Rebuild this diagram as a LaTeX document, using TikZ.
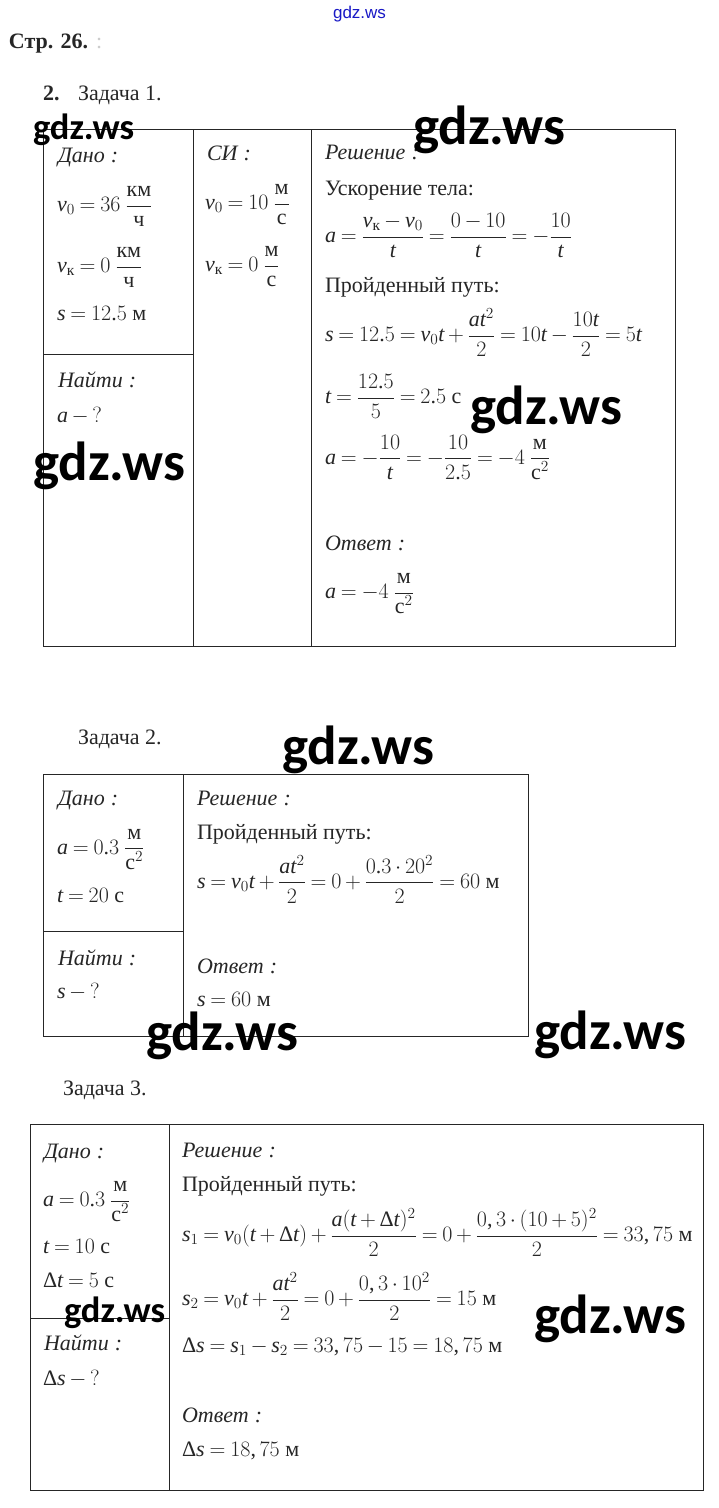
\RequirePackage{fix-cm}
\documentclass[tikz,border=0pt]{standalone}
\usepackage{amsmath}
\usepackage{fontspec}
\setmainfont{Liberation Serif}
\newfontfamily\tnrfam{Liberation Serif}[NFSSFamily=tnr]
\newfontfamily\wmfont{Carlito}
\newfontfamily\linkfont{Liberation Sans}
\DeclareSymbolFont{tnrit}{TU}{tnr}{m}{it}
\DeclareSymbolFont{tnrup}{TU}{tnr}{m}{n}
\DeclareMathSymbol{a}{\mathalpha}{tnrit}{`a}
\DeclareMathSymbol{s}{\mathalpha}{tnrit}{`s}
\DeclareMathSymbol{t}{\mathalpha}{tnrit}{`t}
\DeclareMathSymbol{v}{\mathalpha}{tnrit}{`v}
\DeclareMathSymbol{0}{\mathalpha}{tnrup}{`0}
\DeclareMathSymbol{1}{\mathalpha}{tnrup}{`1}
\DeclareMathSymbol{2}{\mathalpha}{tnrup}{`2}
\DeclareMathSymbol{3}{\mathalpha}{tnrup}{`3}
\DeclareMathSymbol{4}{\mathalpha}{tnrup}{`4}
\DeclareMathSymbol{5}{\mathalpha}{tnrup}{`5}
\DeclareMathSymbol{6}{\mathalpha}{tnrup}{`6}
\DeclareMathSymbol{7}{\mathalpha}{tnrup}{`7}
\DeclareMathSymbol{8}{\mathalpha}{tnrup}{`8}
\DeclareMathSymbol{9}{\mathalpha}{tnrup}{`9}
\DeclareMathSymbol{.}{\mathord}{tnrup}{`.}
\DeclareMathSymbol{,}{\mathpunct}{tnrup}{`,}
\DeclareMathSymbol{(}{\mathopen}{tnrup}{`(}
\DeclareMathSymbol{)}{\mathclose}{tnrup}{`)}
\DeclareMathSymbol{?}{\mathclose}{tnrup}{`?}
\newcommand{\Dl}{\text{Δ}}
\newcommand{\unitfr}[2]{\dfrac{\text{#1}}{\text{#2}}}
\thickmuskip=4mu plus 2mu
\medmuskip=3mu plus 1mu minus 2mu
\tikzset{
  txt/.style={anchor=base west, inner sep=0pt, outer sep=0pt, text=black!85,
    font=\fontsize{22}{26}\selectfont},
  hd/.style={txt, font=\fontsize{22}{26}\selectfont\itshape},
  wm/.style={anchor=base west, inner sep=0pt, outer sep=0pt, text=black,
    font=\wmfont\bfseries\fontsize{55}{62}\selectfont},
  wms/.style={wm, font=\wmfont\bfseries\fontsize{36.5}{42}\selectfont},
  tline/.style={line width=0.9pt, draw=black!85}
}
\begin{document}
\begin{tikzpicture}[x=1pt,y=-1pt]
\fill[white] (0,0) rectangle (718,1508);
\useasboundingbox (0,0) rectangle (718,1508);

% header
\node[anchor=base, inner sep=0pt, text=blue!75!black!90, font=\linkfont\fontsize{17}{20}\selectfont] (link) at (359.5,18) {gdz.ws};
\node[txt, font=\fontsize{22}{26}\selectfont\bfseries] (page) at (9,48) {Стр. 26.};
\node[txt, text=black!20, font=\fontsize{22}{26}\selectfont] (pagemark) at (96,48) {:};
\node[txt, font=\fontsize{22}{26}\selectfont\bfseries] (num) at (43,100) {2.};
\node[txt, font=\fontsize{22}{26}\selectfont] (z1) at (78,100) {Задача 1.};

% ===== Task 1 table =====
\draw[tline] (43,129) rectangle (675,646);
\draw[tline] (193,129) -- (193,646);
\draw[tline] (311,129) -- (311,646);
\draw[tline] (43,354) -- (193,354);

\node[hd] (d1) at (58,162) {Дано\;:};
\node[txt] (d1a) at (57,211.5) {$v_0=36\;\unitfr{км}{ч}$};
\node[txt] (d1b) at (57,272.5) {$v_{\text{к}}=0\;\unitfr{км}{ч}$};
\node[txt] (d1c) at (57,320) {$s=12.5\ \text{м}$};
\node[hd] (n1) at (58,387) {Найти\;:};
\node[txt] (n1a) at (57,422) {$a-{?}$};

\node[hd] (si1) at (207,160) {СИ\;:};
\node[txt] (si1a) at (205,209.5) {$v_0=10\;\unitfr{м}{с}$};
\node[txt] (si1b) at (205,271.5) {$v_{\text{к}}=0\;\unitfr{м}{с}$};

\node[hd] (r1) at (325,159) {Решение\;:};
\node[txt] (r1a) at (325,195) {Ускорение тела:};
\node[txt] (r1b) at (325,242.5) {$a=\dfrac{v_{\text{к}}-v_0}{t}=\dfrac{0-10}{t}=-\dfrac{10}{t}$};
\node[txt] (r1c) at (325,292) {Пройденный путь:};
\node[txt] (r1d) at (325,341.5) {$s=12.5=v_0t+\dfrac{at^2}{2}=10t-\dfrac{10t}{2}=5t$};
\node[txt] (r1e) at (325,403.5) {$t=\dfrac{12.5}{5}=2.5\ \text{с}$};
\node[txt] (r1f) at (325,464) {$a=-\dfrac{10}{t}=-\dfrac{10}{2.5}=-4\;\unitfr{м}{с$^2$}$};
\node[hd] (o1) at (325,550) {Ответ\;:};
\node[txt] (o1a) at (325,598.5) {$a=-4\;\unitfr{м}{с$^2$}$};

% ===== Task 2 =====
\node[txt, font=\fontsize{22}{26}\selectfont] (z2) at (78,744) {Задача 2.};
\draw[tline] (43,774) rectangle (528,1036);
\draw[tline] (183,774) -- (183,1036);
\draw[tline] (43,931) -- (183,931);

\node[hd] (d2) at (58,805) {Дано\;:};
\node[txt] (d2a) at (57,854) {$a=0.3\;\unitfr{м}{с$^2$}$};
\node[txt] (d2b) at (57,902) {$t=20\ \text{с}$};
\node[hd] (n2) at (58,965) {Найти\;:};
\node[txt] (n2a) at (57,998) {$s-{?}$};

\node[hd] (r2) at (197,805) {Решение\;:};
\node[txt] (r2a) at (197,839) {Пройденный путь:};
\node[txt] (r2b) at (197,888) {$s=v_0t+\dfrac{at^2}{2}=0+\dfrac{0.3\cdot 20^2}{2}=60\ \text{м}$};
\node[hd] (o2) at (197,973) {Ответ\;:};
\node[txt] (o2a) at (197,1006) {$s=60\ \text{м}$};

% ===== Task 3 =====
\node[txt, font=\fontsize{22}{26}\selectfont] (z3) at (63,1095) {Задача 3.};
\draw[tline] (30,1124) rectangle (703,1490);
\draw[tline] (169,1124) -- (169,1490);
\draw[tline] (30,1318) -- (169,1318);

\node[hd] (d3) at (44,1158) {Дано\;:};
\node[txt] (d3a) at (43,1206.5) {$a=0.3\;\unitfr{м}{с$^2$}$};
\node[txt] (d3b) at (43,1253) {$t=10\ \text{с}$};
\node[txt] (d3c) at (43,1287) {$\Dl t=5\ \text{с}$};
\node[hd] (n3) at (44,1350) {Найти\;:};
\node[txt] (n3a) at (43,1385) {$\Dl s-{?}$};

\node[hd] (r3) at (182,1157) {Решение\;:};
\node[txt] (r3a) at (182,1191) {Пройденный путь:};
\node[txt] (r3b) at (182,1241.5) {$s_1=v_0(t+\Dl t)+\dfrac{a(t+\Dl t)^2}{2}=0+\dfrac{0,3\cdot(10+5)^2}{2}=33,75\ \text{м}$};
\node[txt] (r3c) at (182,1305.5) {$s_2=v_0t+\dfrac{at^2}{2}=0+\dfrac{0,3\cdot 10^2}{2}=15\ \text{м}$};
\node[txt] (r3d) at (182,1352) {$\Dl s=s_1-s_2=33,75-15=18,75\ \text{м}$};
\node[hd] (o3) at (182,1422) {Ответ\;:};
\node[txt] (o3a) at (182,1456) {$\Dl s=18,75\ \text{м}$};

% ===== watermarks =====
\node[wms] (w1) at (33,139) {gdz.ws};
\node[wm] (w2) at (413,144) {gdz.ws};
\node[wm] (w3) at (470,424) {gdz.ws};
\node[wm] (w4) at (33,480) {gdz.ws};
\node[wm] (w5) at (282,764) {gdz.ws};
\node[wm] (w6) at (146,1050) {gdz.ws};
\node[wm] (w7) at (534,1049) {gdz.ws};
\node[wms] (w8) at (64,1322) {gdz.ws};
\node[wm] (w9) at (534,1333) {gdz.ws};
\end{tikzpicture}
\end{document}
